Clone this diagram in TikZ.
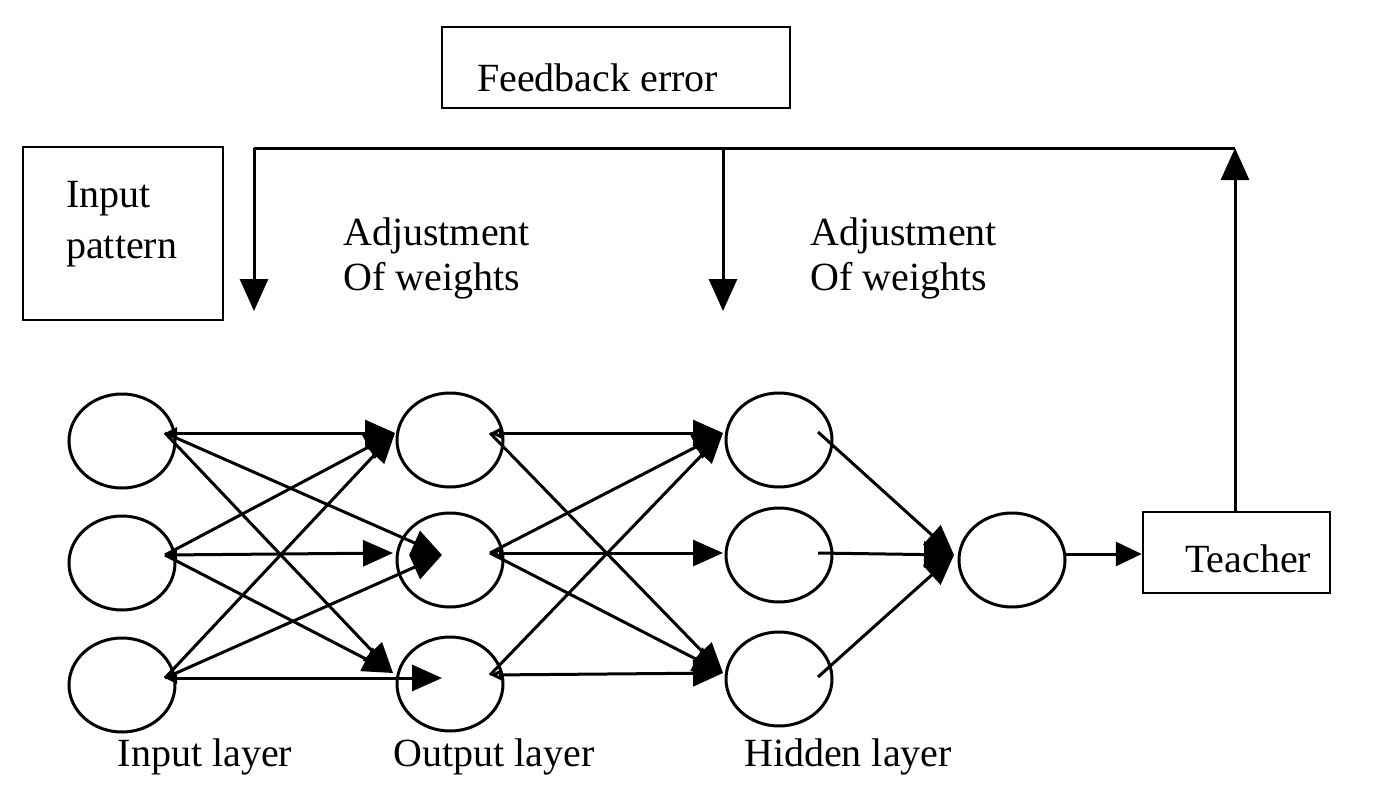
\documentclass[tikz,border=0pt]{standalone}
\usepackage{fontspec}
\setmainfont{Liberation Serif}
\usetikzlibrary{arrows.meta,shapes.geometric,calc}

\begin{document}
\begin{tikzpicture}[x=1pt,y=-1pt,
  neuron/.style={ellipse,draw,line width=3pt,minimum width=106pt,minimum height=94pt,inner sep=0pt},
  frame/.style={draw,line width=2.5pt,inner sep=0pt},
  lbl/.style={font=\fontsize{40}{48}\selectfont,inner sep=0pt},
  txt/.style={lbl,anchor=base west},
  link/.style={line width=3pt,-{Triangle[length=30pt,width=26pt]}},
  tail/.style={line width=3pt,{Triangle[length=12pt,width=11pt]}-{Triangle[length=30pt,width=26pt]}},
  opentail/.style={line width=3pt,{Triangle[open,length=12pt,width=11pt]}-{Triangle[length=30pt,width=26pt]}},
  fb/.style={line width=3pt},
  fbarrow/.style={line width=3pt,-{Triangle[length=32pt,width=28pt]}},
]
\useasboundingbox (0,0) rectangle (1395,787);

% boxes
\node[frame,minimum width=348pt,minimum height=81pt] (fe) at (616,67.5) {};
\node[txt] (fet) at (477,91) {Feedback error};
\node[frame,minimum width=200pt,minimum height=173pt] (ip) at (123,233.5) {};
\node[txt] (ipt1) at (66,207) {Input};
\node[txt] (ipt2) at (66,258) {pattern};
\node[frame,minimum width=187pt,minimum height=81pt] (teacher) at (1236.5,552.5) {};
\node[txt] (tt) at (1185,572) {Teacher};

% neurons
\node[neuron] (a1) at (122,441) {};
\node[neuron] (a2) at (122,563) {};
\node[neuron] (a3) at (122,685) {};
\node[neuron] (b1) at (450,440) {};
\node[neuron] (b2) at (450,560) {};
\node[neuron] (b3) at (450,684) {};
\node[neuron] (c1) at (779,440) {};
\node[neuron] (c2) at (779,555) {};
\node[neuron] (c3) at (779,679) {};
\node[neuron] (out) at (1012,560) {};

% connection points
\coordinate (a1o) at ($(a1)+(43,-8)$);
\coordinate (a2o) at ($(a2)+(43,-8)$);
\coordinate (a3o) at ($(a3)+(43,-7)$);
\coordinate (b1w) at ($(b1)+(-55,-7)$);
\coordinate (b2w) at ($(b2)+(-57,-7)$);
\coordinate (b2c) at ($(b2)+(-8,-5)$);
\coordinate (b3w) at ($(b3)+(-57,-11)$);
\coordinate (b3c) at ($(b3)+(-8,-6)$);
\coordinate (b1o) at ($(b1)+(40,-7)$);
\coordinate (b2o) at ($(b2)+(40,-7)$);
\coordinate (b3o) at ($(b3)+(40,-9)$);
\coordinate (c1w) at ($(c1)+(-56,-7)$);
\coordinate (c2w) at ($(c2)+(-56,-2)$);
\coordinate (c3w) at ($(c3)+(-56,-6)$);
\coordinate (c1o) at ($(c1)+(39,-8)$);
\coordinate (c2o) at ($(c2)+(39,-2)$);
\coordinate (c3o) at ($(c3)+(39,-2)$);
\coordinate (outw) at ($(out)+(-58,-5)$);

% first layer of weights
\draw[tail] (a1o) -- (b1w);
\draw[link] (a1o) -- (b2c);
\draw[link] (a1o) -- (b3w);
\draw[link] (a2o) -- (b1w);
\draw[tail] (a2o) -- (b2w);
\draw[link] (a2o) -- (b3w);
\draw[link] (a3o) -- (b1w);
\draw[link] (a3o) -- (b2c);
\draw[tail] (a3o) -- (b3c);

% second layer of weights
\draw[opentail] (b1o) -- (c1w);
\draw[link] (b1o) -- (c3w);
\draw[link] (b2o) -- (c1w);
\draw[opentail] (b2o) -- (c2w);
\draw[link] (b2o) -- (c3w);
\draw[link] (b3o) -- (c1w);
\draw[opentail] (b3o) -- (c3w);

% into the last neuron
\draw[link] (c1o) -- (outw);
\draw[link] (c2o) -- (outw);
\draw[link] (c3o) -- (outw);
\draw[line width=3pt,-{Triangle[length=26pt,width=24pt]}] (out) ++(54,-6) coordinate (outo) -- (outo -| teacher.west);

% feedback loop
\coordinate (fbR) at (1235,148);
\coordinate (fbL) at (254,148);
\coordinate (fbM) at (723,148);
\coordinate (adjL) at (254,311);
\coordinate (adjM) at (723,311);
\draw[fbarrow] (teacher.north -| fbR) -- (fbR);
\draw[fb] (fbR) -- (fbL);
\draw[fbarrow] (fbL) -- (adjL);
\draw[fbarrow] (fbM) -- (adjM);

% labels
\node[txt] (adj1a) at (343,245) {Adjustment};
\node[txt] (adj1b) at (343,290) {Of weights};
\node[txt] (adj2a) at (810,245) {Adjustment};
\node[txt] (adj2b) at (810,290) {Of weights};
\node[lbl] (l1) at (205,757) {Input layer};
\node[lbl] (l2) at (494,757) {Output layer};
\node[lbl] (l3) at (848,757) {Hidden layer};
\end{tikzpicture}
\end{document}
